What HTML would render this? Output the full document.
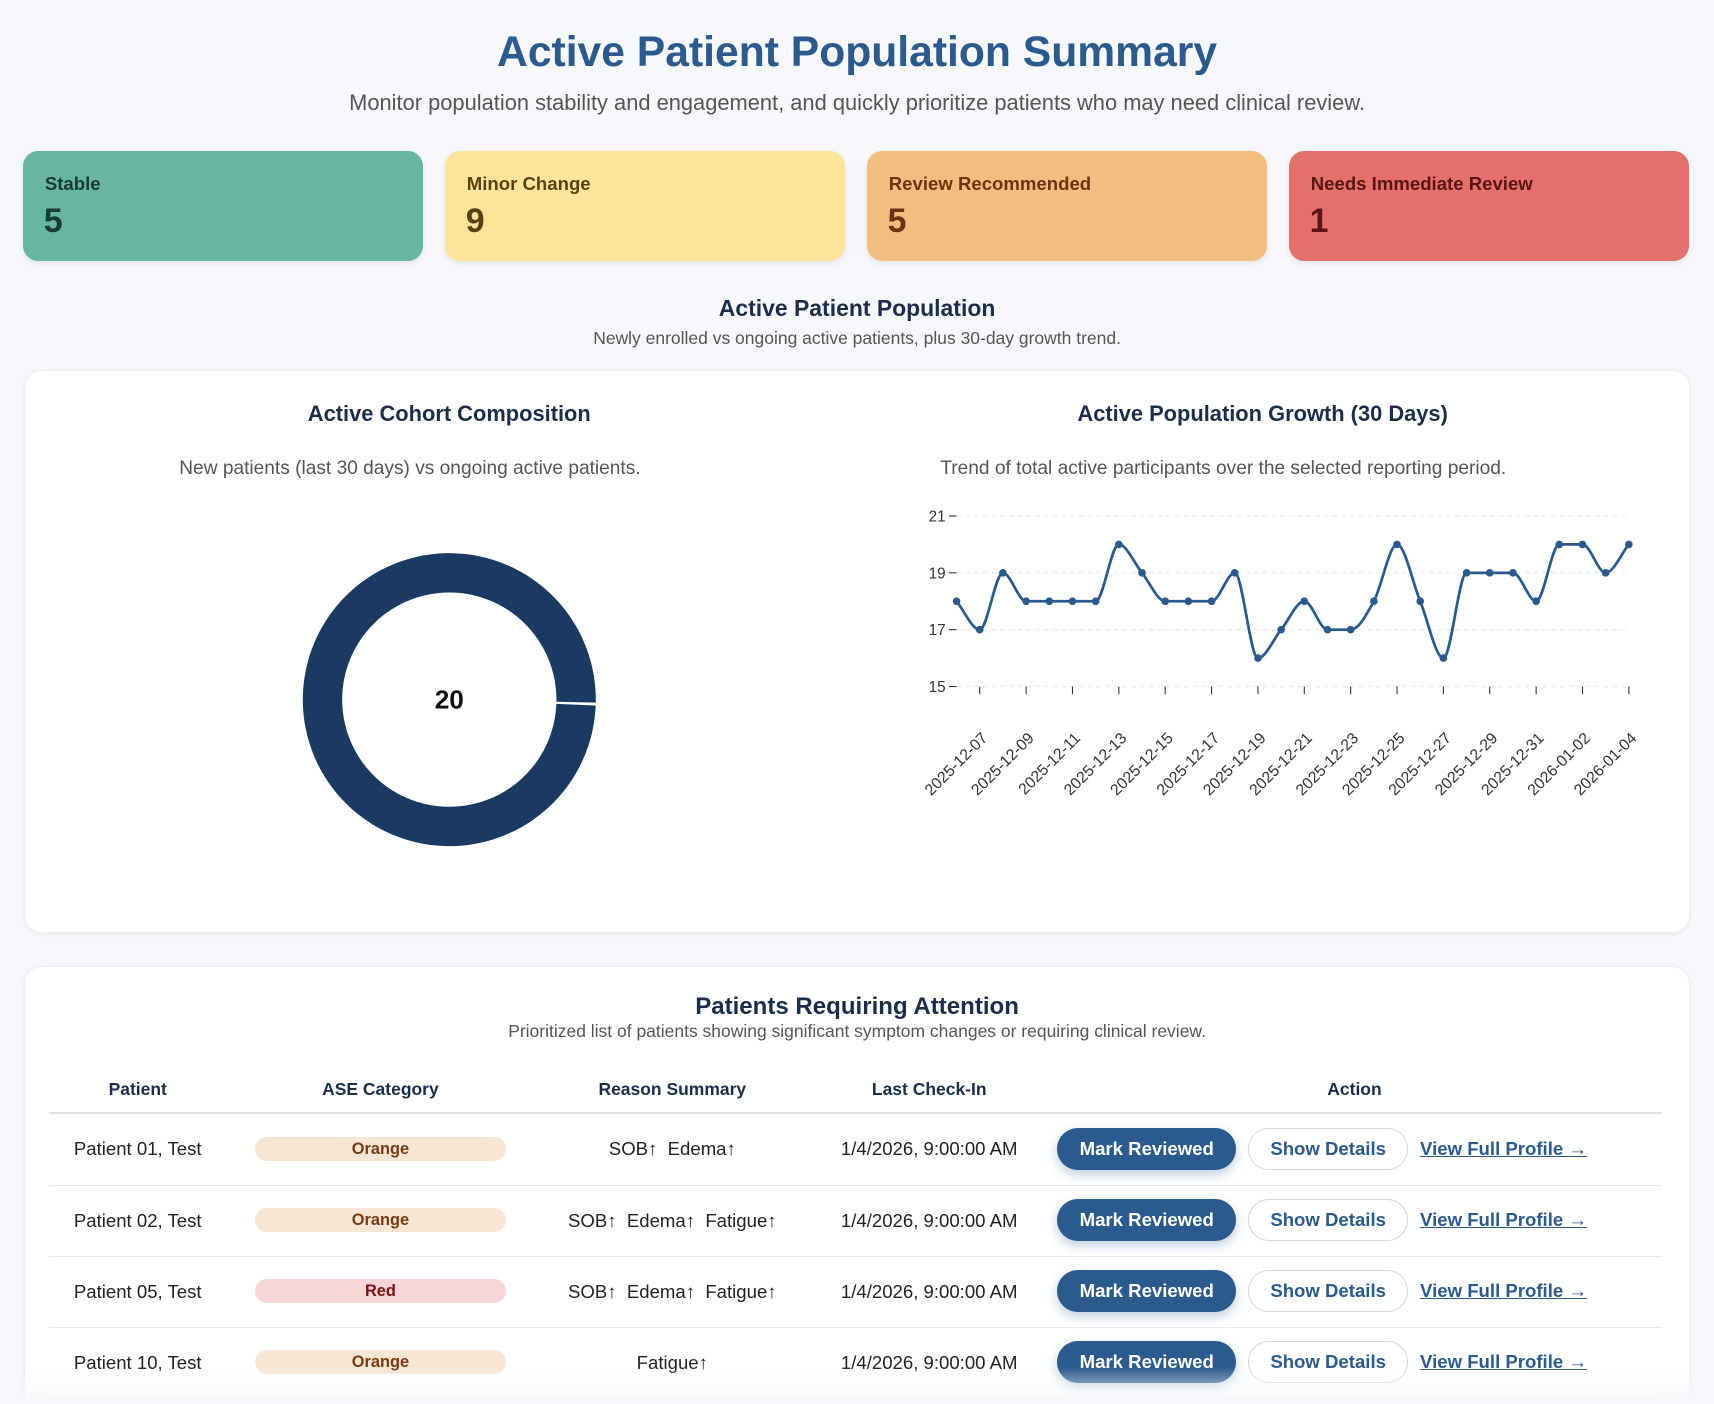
<!DOCTYPE html>
<html><head><meta charset="utf-8"><style>
html,body{margin:0;padding:0;width:1714px;height:1404px;overflow:hidden;background:#f6f8fb;}
#wrap{zoom:1.0932;width:1568px;height:1284px;position:relative;font-family:"Liberation Sans",sans-serif;color:#1a2e4a;overflow:hidden;}
.abs{position:absolute;}
.c{text-align:center;}
.card{position:absolute;top:138px;width:366px;height:101px;border-radius:14px;box-shadow:0 2px 6px rgba(0,0,0,.08);}
.card .l{position:absolute;left:20px;top:20px;font-size:17px;font-weight:bold;}
.card .n{position:absolute;left:19px;top:47px;font-size:31px;font-weight:bold;}
.panel{position:absolute;background:#fff;border-radius:16px;box-shadow:0 1px 4px rgba(0,0,0,.06);border:1px solid #eceff3;}
.th{position:absolute;top:987px;font-size:16px;font-weight:bold;transform:translateX(-50%);white-space:nowrap;}
.row{position:absolute;left:45px;width:1475px;height:65px;border-bottom:1px solid #e6e9ee;}
.cell{position:absolute;top:50%;transform:translate(-50%,-50%);font-size:17px;white-space:nowrap;color:#222;}
.badge{position:absolute;left:188px;width:230px;height:22px;top:21px;border-radius:11px;font-size:15px;font-weight:bold;text-align:center;line-height:22px;}
.mr{position:absolute;left:922px;top:13px;width:164px;height:38px;border-radius:19px;background:#2b5a8e;color:#fff;font-weight:bold;font-size:17px;text-align:center;line-height:38px;box-shadow:0 4px 10px rgba(43,90,142,.3);}
.sd{position:absolute;left:1097px;top:13px;width:144px;height:36px;border-radius:19px;background:#fff;border:1px solid #cfd6df;color:#2b5a8e;font-weight:bold;font-size:17px;text-align:center;line-height:36px;}
.vp{position:absolute;left:1254px;top:22px;color:#2b5a8e;font-weight:bold;font-size:17px;text-decoration:underline;}
</style></head><body>
<div id="wrap">
<div class="abs c" style="left:0;width:1568px;top:26px;font-size:39px;font-weight:bold;color:#2b5a8e;">Active Patient Population Summary</div>
<div class="abs c" style="left:0;width:1568px;top:82px;font-size:20px;color:#555;">Monitor population stability and engagement, and quickly prioritize patients who may need clinical review.</div>

<div class="card" style="left:21px;background:#66b6a2;color:#173d33"><div class="l">Stable</div><div class="n">5</div></div>
<div class="card" style="left:407px;background:#fde49b;color:#5a4210"><div class="l">Minor Change</div><div class="n">9</div></div>
<div class="card" style="left:793px;background:#f4bd80;color:#6b3410"><div class="l">Review Recommended</div><div class="n">5</div></div>
<div class="card" style="left:1179px;background:#e4706b;color:#5a1414"><div class="l">Needs Immediate Review</div><div class="n">1</div></div>

<div class="abs c" style="left:0;width:1568px;top:270px;font-size:21px;font-weight:bold;">Active Patient Population</div>
<div class="abs c" style="left:0;width:1568px;top:300px;font-size:16px;color:#555;">Newly enrolled vs ongoing active patients, plus 30-day growth trend.</div>

<div class="panel" style="left:22px;top:338px;width:1522px;height:514px;"></div>
<div class="abs c" style="left:211px;width:400px;top:367px;font-size:20px;font-weight:bold;">Active Cohort Composition</div>
<div class="abs c" style="left:75px;width:600px;top:419px;font-size:17.5px;color:#555;">New patients (last 30 days) vs ongoing active patients.</div>
<div class="abs c" style="left:905px;width:500px;top:367px;font-size:20px;font-weight:bold;">Active Population Growth (30 Days)</div>
<div class="abs c" style="left:819px;width:600px;top:419px;font-size:17.5px;color:#555;">Trend of total active participants over the selected reporting period.</div>

<svg class="abs" style="left:0;top:0" width="1568" height="1284" id="svg"></svg>

<div class="panel" style="left:22px;top:884px;width:1522px;height:440px;"></div>
<div class="abs c" style="left:0;width:1568px;top:908px;font-size:22px;font-weight:bold;">Patients Requiring Attention</div>
<div class="abs c" style="left:0;width:1568px;top:934px;font-size:16px;color:#555;">Prioritized list of patients showing significant symptom changes or requiring clinical review.</div>
<div class="th" style="left:126px">Patient</div>
<div class="th" style="left:348px">ASE Category</div>
<div class="th" style="left:615px">Reason Summary</div>
<div class="th" style="left:850px">Last Check-In</div>
<div class="th" style="left:1239px">Action</div>
<div class="abs" style="left:45px;top:1017px;width:1475px;height:2px;background:#dde2e8"></div>

<div class="row" style="top:1019px">
<div class="cell" style="left:81px">Patient 01, Test</div>
<div class="badge" style="background:#f8e6d4;color:#7a3b10">Orange</div>
<div class="cell" style="left:570px">SOB↑ &nbsp;Edema↑</div>
<div class="cell" style="left:805px">1/4/2026, 9:00:00 AM</div>
<div class="mr">Mark Reviewed</div>
<div class="sd">Show Details</div>
<div class="vp">View Full Profile →</div></div>
<div class="row" style="top:1084px">
<div class="cell" style="left:81px">Patient 02, Test</div>
<div class="badge" style="background:#f8e6d4;color:#7a3b10">Orange</div>
<div class="cell" style="left:570px">SOB↑ &nbsp;Edema↑ &nbsp;Fatigue↑</div>
<div class="cell" style="left:805px">1/4/2026, 9:00:00 AM</div>
<div class="mr">Mark Reviewed</div>
<div class="sd">Show Details</div>
<div class="vp">View Full Profile →</div></div>
<div class="row" style="top:1149px">
<div class="cell" style="left:81px">Patient 05, Test</div>
<div class="badge" style="background:#f6d6d6;color:#7a1010">Red</div>
<div class="cell" style="left:570px">SOB↑ &nbsp;Edema↑ &nbsp;Fatigue↑</div>
<div class="cell" style="left:805px">1/4/2026, 9:00:00 AM</div>
<div class="mr">Mark Reviewed</div>
<div class="sd">Show Details</div>
<div class="vp">View Full Profile →</div></div>
<div class="row" style="top:1214px">
<div class="cell" style="left:81px">Patient 10, Test</div>
<div class="badge" style="background:#f8e6d4;color:#7a3b10">Orange</div>
<div class="cell" style="left:570px">Fatigue↑</div>
<div class="cell" style="left:805px">1/4/2026, 9:00:00 AM</div>
<div class="mr">Mark Reviewed</div>
<div class="sd">Show Details</div>
<div class="vp">View Full Profile →</div></div>
<div class="abs" style="left:0;top:1250px;width:1568px;height:34px;background:linear-gradient(rgba(246,248,251,0),rgba(246,248,251,.9))"></div>
</div>
<script>
const dates=["2025-12-06","2025-12-07","2025-12-08","2025-12-09","2025-12-10","2025-12-11","2025-12-12","2025-12-13","2025-12-14","2025-12-15","2025-12-16","2025-12-17","2025-12-18","2025-12-19","2025-12-20","2025-12-21","2025-12-22","2025-12-23","2025-12-24","2025-12-25","2025-12-26","2025-12-27","2025-12-28","2025-12-29","2025-12-30","2025-12-31","2026-01-01","2026-01-02","2026-01-03","2026-01-04"];
const activeCounts=[18,17,19,18,18,18,18,20,19,18,18,18,19,16,17,18,17,17,18,20,18,16,19,19,19,18,20,20,19,20];
const yTicks=[15,17,19,21];
const cohortLabels=["New","Ongoing"];
const cohortValues=[0,20];

const NS="http://www.w3.org/2000/svg";
const svg=document.getElementById('svg');
function mk(t,a){const e=document.createElementNS(NS,t);for(const k in a)e.setAttribute(k,a[k]);svg.appendChild(e);return e;}
const x0=875,x1=1490,yTop=472,yBot=628,ymin=15,ymax=21;
const xs=i=>x0+(x1-x0)*i/(dates.length-1);
const ys=v=>yBot-(v-ymin)/(ymax-ymin)*(yBot-yTop);
yTicks.forEach(t=>{
 const g=mk('line',{x1:x0,x2:x1,y1:ys(t),y2:ys(t),stroke:'#e3e7ec','stroke-dasharray':'4 4'});
 
 const tk=mk('line',{x1:868,x2:875,y1:ys(t),y2:ys(t),stroke:'#333'});
 
 const lb=mk('text',{x:865,y:ys(t)+5,'text-anchor':'end','font-size':14,fill:'#333','font-family':'Liberation Sans'});
 lb.textContent=t;
});
dates.forEach((d,i)=>{
 if(i%2!==1)return;
 const x=xs(i);
 const tk=mk('line',{x1:x,x2:x,y1:628,y2:635,stroke:'#333'});
 
 const lx=x+8,ly=676;
 const lb=mk('text',{x:lx,y:ly,'text-anchor':'end','font-size':14.5,fill:'#333','font-family':'Liberation Sans',transform:`rotate(-45 ${lx} ${ly})`});
 lb.textContent=d;
});
// monotone cubic (Fritsch-Carlson)
const P=activeCounts.map((v,i)=>[xs(i),ys(v)]);
const n=P.length,dx=[],sl=[],m=[];
for(let i=0;i<n-1;i++){dx[i]=P[i+1][0]-P[i][0];sl[i]=(P[i+1][1]-P[i][1])/dx[i];}
m[0]=sl[0];m[n-1]=sl[n-2];
for(let i=1;i<n-1;i++){m[i]=(sl[i-1]*sl[i]<=0)?0:(sl[i-1]+sl[i])/2;}
for(let i=0;i<n-1;i++){if(sl[i]===0){m[i]=0;m[i+1]=0;}}
let d=`M${P[0][0]},${P[0][1]}`;
for(let i=0;i<n-1;i++){
 const h=dx[i]/3;
 d+=` C${P[i][0]+h},${P[i][1]+m[i]*h} ${P[i+1][0]-h},${P[i+1][1]-m[i+1]*h} ${P[i+1][0]},${P[i+1][1]}`;
}
const ln=mk('path',{d:d,fill:'none',stroke:'#2b5a8e','stroke-width':2.5});

P.forEach(p=>{const c=mk('circle',{cx:p[0],cy:p[1],r:3.5,fill:'#2b5a8e'});
 });
// donut
const cx=411,cy=640,R=134,r=98;
const total=cohortValues.reduce((a,b)=>a+b,0);
const colors=['#5a8bc4','#1a3a63'];
let ang=0;const pad=0.02;
const startOff=Math.PI/2+0.03;
cohortValues.forEach((v,i)=>{
 const frac=v/total; if(frac<=0)return;
 let a0=startOff+ang*2*Math.PI+pad/2,a1=startOff+(ang+frac)*2*Math.PI-pad/2;ang+=frac;
 const pt=(rad,a)=>[cx+rad*Math.sin(a),cy-rad*Math.cos(a)];
 const large=(a1-a0)>Math.PI?1:0;
 const [ax,ay]=pt(R,a0),[bx,by]=pt(R,a1),[cx2,cy2]=pt(r,a1),[ddx,ddy]=pt(r,a0);
 const s=mk('path',{d:`M${ax},${ay} A${R},${R} 0 ${large} 1 ${bx},${by} L${cx2},${cy2} A${r},${r} 0 ${large} 0 ${ddx},${ddy} Z`,fill:colors[i]});
 
});
const ct=mk('text',{x:cx,y:cy+8,'text-anchor':'middle','font-size':24,'font-weight':'bold',fill:'#111','font-family':'Liberation Sans'});
ct.textContent=total;
</script>
</body></html>
